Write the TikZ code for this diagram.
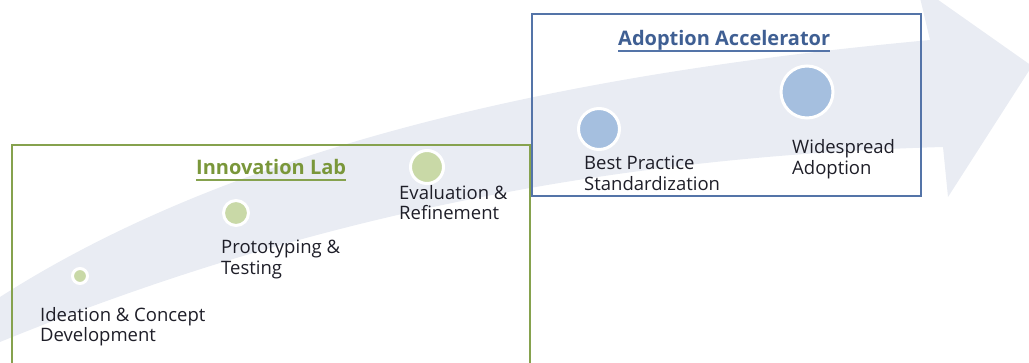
\documentclass[tikz,border=0pt]{standalone}
\usepackage{fontspec}
\setmainfont{Open Sans}
\usepackage{tikz}
\usetikzlibrary{calc,positioning}
\definecolor{bandgrey}{HTML}{E9ECF3}
\definecolor{labgreen}{HTML}{86A24E}
\definecolor{labtext}{HTML}{7A973A}
\definecolor{dotgreen}{HTML}{C9D9A7}
\definecolor{accblue}{HTML}{5474A8}
\definecolor{acctext}{HTML}{3F5F93}
\definecolor{dotblue}{HTML}{A5BFDF}
\definecolor{textdark}{HTML}{1E1E28}
\tikzstyle{stage} = [anchor=base west, align=left, inner sep=0pt,
    text=textdark, font=\fontsize{18.5}{20.5}\selectfont]
\tikzstyle{title} = [anchor=base west, inner sep=0pt,
    font=\fontsize{20}{24}\selectfont\bfseries]
\tikzstyle{greendot} = [circle, inner sep=0pt, fill=dotgreen, draw=white, line width=3pt]
\tikzstyle{bluedot} = [circle, inner sep=0pt, fill=dotblue, draw=white, line width=3pt]
\tikzstyle{uline} = [line width=2pt]

\begin{document}
\begin{tikzpicture}[x=1pt, y=-1pt]
        \useasboundingbox (0,0) rectangle (1029,362);
        \clip (0,0) rectangle (1029,362);
        \fill [bandgrey] (0,297) .. controls (230,150) and (550,75) .. (930,40)
            -- (917,-15) -- (1032,66) -- (948,197) -- (943,147)
            .. controls (550,158) and (250,240) .. (0,342) -- cycle;
        \draw [labgreen, line width=1.5pt] (12,380) -- (12,145) -- (530,145) -- (530,380);
        \draw [accblue, line width=1.5pt] (532,14) rectangle (921,196);
        \node (innolab) [title, text=labtext] at (196,174) {Innovation Lab};
        \node (adoptacc) [title, text=acctext] at (618,45) {Adoption Accelerator};
        \draw [uline, labgreen] ([yshift=-6pt]innolab.base west) -- ([yshift=-6pt]innolab.base east);
        \draw [uline, accblue] ([yshift=-6pt]adoptacc.base west) -- ([yshift=-6pt]adoptacc.base east);
        \node (dotideation) [greendot, minimum size=15pt] at (80,276) {};
        \node (dotproto) [greendot, minimum size=25pt] at (236,213) {};
        \node (doteval) [greendot, minimum size=33pt] at (427,167) {};
        \node (dotbest) [bluedot, minimum size=41pt] at (599,129) {};
        \node (dotwide) [bluedot, minimum size=52pt] at (807,92) {};
        \node (ideation) [stage] at (40,341.5) {Ideation \& Concept\\Development};
        \node (proto) [stage] at (221,274) {Prototyping \&\\Testing};
        \node (evalref) [stage] at (399,219.5) {Evaluation \&\\Refinement};
        \node (bestprac) [stage] at (584,190) {Best Practice\\Standardization};
        \node (widespread) [stage] at (792,174) {Widespread\\Adoption};
    \end{tikzpicture}
\end{document}
